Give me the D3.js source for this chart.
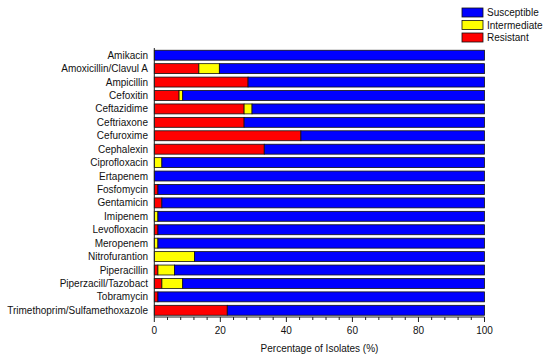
<!DOCTYPE html>
<html><head><meta charset="utf-8">
<script src="https://cdn.jsdelivr.net/npm/d3@7"></script>
<style>body{margin:0;background:#fff}svg{display:block;font-family:Arial,"Liberation Sans",sans-serif}</style>
</head><body><svg id="c" width="550" height="360"></svg>
<script>
const categories = ["Amikacin","Amoxicillin/Clavul A","Ampicillin","Cefoxitin","Ceftazidime","Ceftriaxone","Cefuroxime","Cephalexin","Ciprofloxacin","Ertapenem","Fosfomycin","Gentamicin","Imipenem","Levofloxacin","Meropenem","Nitrofurantion","Piperacillin","Piperzacill/Tazobact","Tobramycin","Trimethoprim/Sulfamethoxazole"];
const resistant    = [0,13.5,28.4,7.5,27.2,27.2,44.4,33.3,0,0,1.1,2.3,0,1.1,0,0,1.1,2.3,1.1,22.1];
const intermediate = [0,6.2,0,1.1,2.4,0,0,0,2.3,0,0,0,1.1,0,1.1,12.2,5.0,6.3,0,0];
const susceptible  = categories.map((c,i)=>100-resistant[i]-intermediate[i]);
const seriesNames = ["Resistant","Intermediate","Susceptible"];
const legendNames = ["Susceptible","Intermediate","Resistant"];
const xTicks = [0,20,40,60,80,100];

const colors = {Susceptible:"#0000ff", Intermediate:"#ffff00", Resistant:"#ff0000"};
const svg = d3.select("#c");
const x = d3.scaleLinear().domain([0,100]).range([154.3,484.5]);
const y = d3.scaleBand().domain(categories).range([48.5,317]).paddingInner(0.26).paddingOuter(0.13);

const rows = categories.map((c,i)=>({cat:c, Resistant:resistant[i], Intermediate:intermediate[i], Susceptible:susceptible[i]}));
const stack = d3.stack().keys(seriesNames)(rows);

svg.append("g").selectAll("g").data(stack).join("g")
  .attr("fill", d=>colors[d.key])
  .selectAll("rect").data(d=>d.filter(p=>p[1]-p[0]>0)).join("rect")
  .attr("x", d=>x(d[0])).attr("width", d=>x(d[1])-x(d[0]))
  .attr("y", d=>y(d.data.cat)).attr("height", y.bandwidth())
  .attr("stroke","#111").attr("stroke-width",0.8);

// category labels
svg.append("g").selectAll("text").data(categories).join("text")
  .attr("x",148).attr("y",d=>y(d)+y.bandwidth()/2).attr("dy","0.35em")
  .attr("text-anchor","end").attr("font-size",10).attr("fill","#111").text(d=>d);

// left axis line
svg.append("line").attr("x1",154.3).attr("x2",154.3).attr("y1",48).attr("y2",317).attr("stroke","#222").attr("stroke-width",1);

// bottom axis
const xa = svg.append("g").attr("transform","translate(0,317)");
xa.append("line").attr("x1",154.3).attr("x2",484.5).attr("stroke","#222");
const minor = d3.range(0,101,4).filter(v=>v%20!==0);
xa.selectAll(".mj").data(xTicks).join("line").attr("x1",d=>x(d)).attr("x2",d=>x(d)).attr("y1",0).attr("y2",5).attr("stroke","#222");
xa.selectAll(".mn").data(minor).join("line").attr("x1",d=>x(d)).attr("x2",d=>x(d)).attr("y1",0).attr("y2",3).attr("stroke","#222");
xa.selectAll("text").data(xTicks).join("text").attr("x",d=>x(d)).attr("y",17).attr("text-anchor","middle").attr("font-size",10).attr("fill","#111").text(d=>d);

svg.append("text").attr("x",319.5).attr("y",352).attr("text-anchor","middle").attr("font-size",10).attr("fill","#111").text("Percentage of Isolates (%)");

// legend
const lg = svg.append("g").selectAll("g").data(legendNames).join("g").attr("transform",(d,i)=>`translate(462,${8+i*12.5})`);
lg.append("rect").attr("width",21).attr("height",9).attr("fill",d=>colors[d]).attr("stroke","#111").attr("stroke-width",0.8);
lg.append("text").attr("x",25).attr("y",4.5).attr("dy","0.35em").attr("font-size",10).attr("fill","#111").text(d=>d);
</script></body></html>
